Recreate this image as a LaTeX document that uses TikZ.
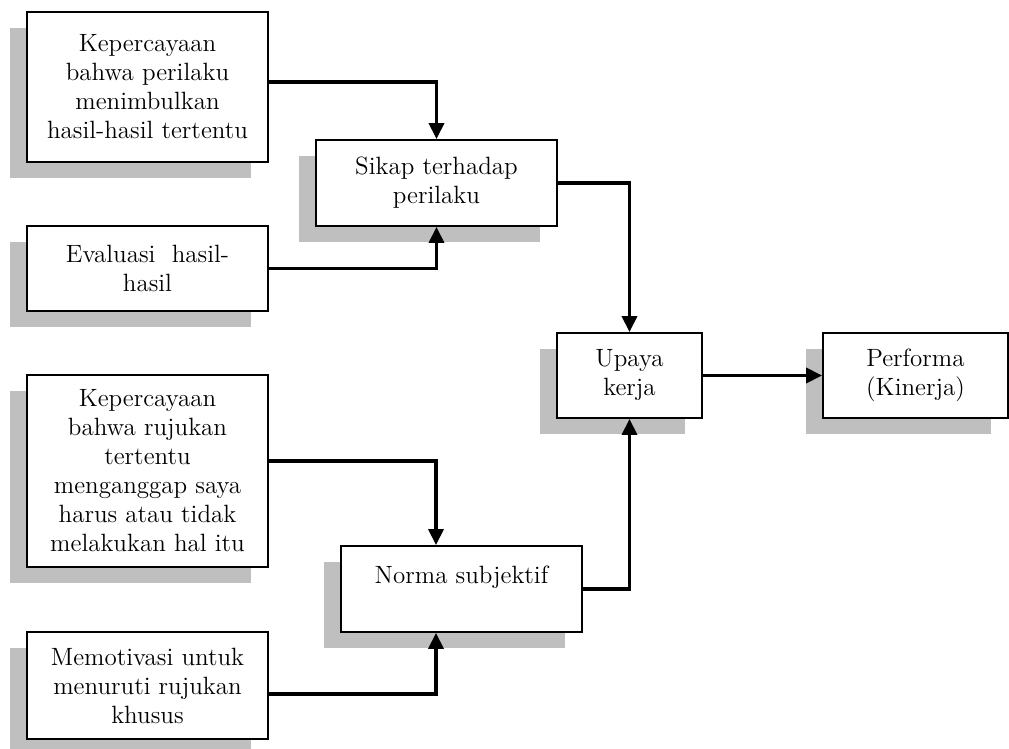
\documentclass[tikz,border=0pt]{standalone}
\usetikzlibrary{arrows.meta,shadows}
\begin{document}
\begin{tikzpicture}[x=0.5pt,y=-0.5pt,
		kotak/.style={draw,line width=0.9pt,fill=white,align=center,inner sep=0pt,
			font=\fontsize{12.5}{14.5}\selectfont,
			drop shadow={shadow xshift=-8.5pt,shadow yshift=-8pt,fill=black!25,opacity=1}},
		panah/.style={line width=1.7pt,-{Triangle[width=7.5pt,length=8pt]}}]
		\useasboundingbox (0,0) rectangle (1009,749);
		\node[kotak,minimum width=120.5pt,minimum height=75pt] (yakin) at (147.5,87) {Kepercayaan\\bahwa perilaku\\menimbulkan\\hasil-hasil tertentu};
		\node[kotak,minimum width=120.5pt,minimum height=42.5pt] (evaluasi) at (147.5,268.5) {Evaluasi\ \ hasil-\\hasil};
		\node[kotak,minimum width=120.5pt,minimum height=96pt] (rujukan) at (147.5,471) {Kepercayaan\\bahwa rujukan\\tertentu\\menganggap saya\\harus atau tidak\\melakukan hal itu};
		\node[kotak,minimum width=120.5pt,minimum height=53.5pt] (motivasi) at (147.5,685.5) {Memotivasi untuk\\menuruti rujukan\\khusus};
		\node[kotak,minimum width=120.5pt,minimum height=43pt] (sikap) at (436.5,183) {Sikap terhadap\\perilaku};
		\node[kotak,minimum width=120.5pt,minimum height=43pt] (norma) at (461.5,589) {Norma subjektif\\\phantom{x}};
		\node[kotak,minimum width=72.5pt,minimum height=42.5pt] (upaya) at (629.5,375.5) {Upaya\\kerja};
		\node[kotak,minimum width=92.5pt,minimum height=42.5pt] (performa) at (915.5,375.5) {Performa\\(Kinerja)};
		\draw[panah] ([yshift=2.5pt]yakin.east) -| (sikap.north);
		\draw[panah] (evaluasi.east) -| (sikap.south);
		\draw[panah] (sikap.east) -| (upaya.north);
		\draw[panah] ([yshift=5pt]rujukan.east) -| ([xshift=-12.75pt]norma.north);
		\draw[panah] ([yshift=-4.25pt]motivasi.east) -| ([xshift=-12.75pt]norma.south);
		\draw[panah] (norma.east) -| (upaya.south);
		\draw[panah] (upaya) -- (performa);
	\end{tikzpicture}
\end{document}
